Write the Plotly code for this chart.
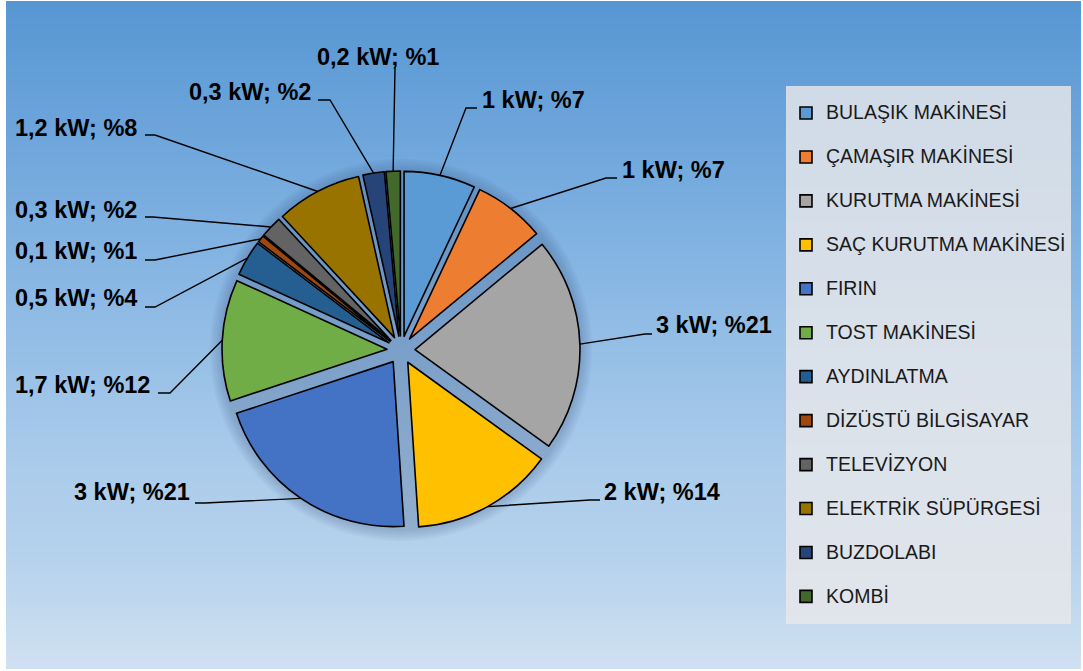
import math
import plotly.graph_objects as go

# --- data -------------------------------------------------------------
appliances = [
    "BULAŞIK MAKİNESİ", "ÇAMAŞIR MAKİNESİ", "KURUTMA MAKİNESİ",
    "SAÇ KURUTMA MAKİNESİ", "FIRIN", "TOST MAKİNESİ", "AYDINLATMA",
    "DİZÜSTÜ BİLGİSAYAR", "TELEVİZYON", "ELEKTRİK SÜPÜRGESİ",
    "BUZDOLABI", "KOMBİ",
]
power_kw = [1, 1, 3, 2, 3, 1.7, 0.5, 0.1, 0.3, 1.2, 0.3, 0.2]
share_pct = [7, 7, 21, 14, 21, 12, 4, 1, 2, 8, 2, 1]

colors = [
    "#5B9BD5", "#ED7D31", "#A5A5A5", "#FFC000", "#4472C4", "#70AD47",
    "#255E91", "#9E480E", "#636363", "#997300", "#264478", "#43682B",
]

# --- layout constants (pixels) ----------------------------------------
W, H = 1083, 671
CX, CY = 401, 350          # pie centre
BOX = 358                  # pie box incl. explosion
PULL = 0.085
R = BOX / (2 + 2 * PULL)
R_OUT = R * (1 + PULL)

# label placement: text left x, text centre y, elbow point, end point
label_pos = [
    (481, 100, (466, 108), (477, 108)),
    (621, 170, (606, 178), (617, 178)),
    (655, 325, (645, 334), (652, 334)),
    (603, 492, (590, 500), (600, 500)),
    (73, 492, (205, 503), (195, 503)),
    (14, 385, (170, 393), (158, 393)),
    (14, 298, (155, 307), (145, 307)),
    (14, 251, (155, 260), (145, 260)),
    (14, 210, (153, 217), (145, 217)),
    (14, 128, (155, 135), (145, 135)),
    (188, 92, (330, 100), (318, 100)),
    (316, 57, (395, 68), (395, 68)),
]


def px(x):
    return x / W


def py(y):
    return 1 - y / H


def kw_text(v):
    return ("%g" % v).replace(".", ",")


fig = go.Figure()
fig.add_trace(go.Pie(
    labels=['<span style="font-size:19.5px;baseline-shift:6px">%s</span>' % a
            for a in appliances],
    values=power_kw,
    sort=False,
    direction="clockwise",
    rotation=0,
    pull=[PULL] * len(power_kw),
    marker=dict(colors=colors, line=dict(color="black", width=1.6)),
    textinfo="none",
    hoverinfo="label+value+percent",
    domain=dict(x=[px(CX - BOX / 2), px(CX + BOX / 2)],
                y=[py(CY + BOX / 2), py(CY - BOX / 2)]),
))

# --- gradient background ----------------------------------------------
stops = [
    (0, (86, 150, 210)),
    (150, (112, 167, 220)),
    (300, (140, 185, 228)),
    (450, (168, 202, 234)),
    (560, (182, 210, 236)),
    (671, (208, 225, 241)),
]


def grad(y):
    for (y0, c0), (y1, c1) in zip(stops[:-1], stops[1:]):
        if y0 <= y <= y1:
            t = (y - y0) / (y1 - y0)
            return tuple(round(a + (b - a) * t) for a, b in zip(c0, c1))
    return stops[-1][1]


shapes = []
step = 4
for y in range(1, H, step):
    c = grad(y + step / 2)
    shapes.append(dict(
        type="rect", xref="paper", yref="paper", layer="below",
        x0=px(6), x1=px(W - 2), y0=py(min(y + step, H - 2)), y1=py(y),
        fillcolor="rgb(%d,%d,%d)" % c, line=dict(width=0),
    ))

# soft shadow halo behind the pie
for k in range(6):
    rr = R_OUT + 2 + 2 * k
    shapes.append(dict(
        type="circle", xref="paper", yref="paper", layer="below",
        x0=px(CX - rr), x1=px(CX + rr), y0=py(CY + rr), y1=py(CY - rr),
        fillcolor="rgba(40,70,110,0.045)", line=dict(width=0),
    ))

# --- leader lines and labels -----------------------------------------
total = sum(power_kw)
annotations = []
cum = 0.0
for i, v in enumerate(power_kw):
    mid = (cum + v / 2) / total * 2 * math.pi
    cum += v
    sx = CX + R_OUT * math.sin(mid)
    sy = CY - R_OUT * math.cos(mid)
    tx, ty, (ex, ey), (fx, fy) = label_pos[i]
    path = "M%f,%f L%f,%f L%f,%f" % (px(sx), py(sy), px(ex), py(ey),
                                     px(fx), py(fy))
    shapes.append(dict(type="path", xref="paper", yref="paper", path=path,
                       line=dict(color="black", width=1.4), layer="above"))
    annotations.append(dict(
        xref="paper", yref="paper", x=px(tx), y=py(ty),
        xanchor="left", yanchor="middle", showarrow=False,
        text="<b>%s kW; %%%d</b>" % (kw_text(v), share_pct[i]),
        font=dict(family="Liberation Sans, Arial, sans-serif", size=23.5,
                  color="black"),
        borderpad=0,
    ))

fig.update_layout(
    width=W, height=H,
    margin=dict(l=0, r=0, t=0, b=0),
    paper_bgcolor="white",
    shapes=shapes,
    annotations=annotations,
    showlegend=True,
    legend=dict(
        x=px(786), y=py(86), xanchor="left", yanchor="top",
        bgcolor="rgba(232,232,234,0.82)",
        font=dict(family="Liberation Sans, Arial, sans-serif", size=31.5,
                  color="#1a1a1a"),
        traceorder="normal",
        entrywidth=250,
        entrywidthmode="pixels",
    ),
)

fig.write_html("out.html")
